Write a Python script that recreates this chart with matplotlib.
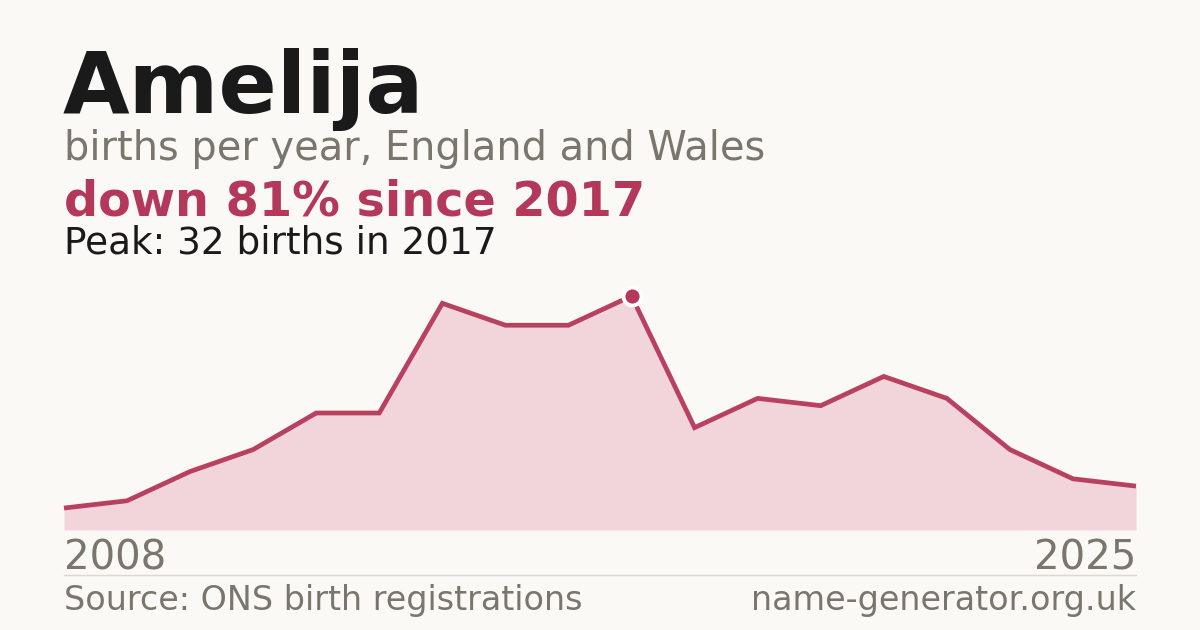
import matplotlib
matplotlib.use("Agg")
import matplotlib.pyplot as plt
from matplotlib.lines import Line2D

years = list(range(2008, 2026))
births = [3, 4, 8, 11, 16, 16, 31, 28, 28, 32, 14, 18, 17, 21, 18, 11, 7, 6]
peak_year = 2017
peak_value = 32

BG = "#faf9f5"
RED = "#b3385a"
LINE = "#b8415f"
FILL = "#f1d5db"
GREY = "#7a756d"
DARK = "#1a1a1a"

W, H = 1200, 630
fig = plt.figure(figsize=(W / 100, H / 100), dpi=100, facecolor=BG)

def fx(px):
    return px / W

def fy(py):
    return 1 - py / H

# chart axes: x 64..1136, baseline 530, top 280
ax_top, ax_bot = 280, 530
ax = fig.add_axes([fx(64), fy(ax_bot), fx(1136) - fx(64), (ax_bot - ax_top) / H])
ax.set_facecolor(BG)
ax.patch.set_alpha(0)
ymax = peak_value * (ax_bot - ax_top) / (ax_bot - 296)
ax.set_xlim(years[0], years[-1])
ax.set_ylim(0, ymax)
ax.fill_between(years, births, 0, color=FILL, linewidth=0, zorder=1)
ax.plot(years, births, color=LINE, linewidth=3.4, solid_joinstyle="miter",
        solid_capstyle="butt", zorder=2, clip_on=False)
ax.plot([peak_year], [peak_value], marker="o", markersize=13, color=RED,
        markeredgecolor="white", markeredgewidth=2.8, zorder=3, clip_on=False)
ax.axis("off")

# texts
fig.text(fx(63), fy(113), "Amelija", fontsize=62, fontweight="bold", color=DARK,
         ha="left", va="baseline")
fig.text(fx(64), fy(160), "births per year, England and Wales", fontsize=28.7, color=GREY,
         ha="left", va="baseline")
fig.text(fx(64), fy(215), "down 81% since 2017", fontsize=34.4, fontweight="bold", color=RED,
         ha="left", va="baseline")
fig.text(fx(64), fy(253), "Peak: 32 births in 2017", fontsize=26.9, color=DARK,
         ha="left", va="baseline")

fig.text(fx(64), fy(570), str(years[0]), fontsize=29, color=GREY, ha="left", va="baseline")
fig.text(fx(1136), fy(570), str(years[-1]), fontsize=29, color=GREY, ha="right", va="baseline")

fig.add_artist(Line2D([fx(64), fx(1136)], [fy(574.5), fy(574.5)], color="#dcd9d2",
                      linewidth=1.0, transform=fig.transFigure))

fig.text(fx(64), fy(610), "Source: ONS birth registrations", fontsize=24, color=GREY,
         ha="left", va="baseline")
fig.text(fx(1136), fy(610), "name-generator.org.uk", fontsize=24, color=GREY,
         ha="right", va="baseline")

fig.savefig("out.png", dpi=100, facecolor=BG)
